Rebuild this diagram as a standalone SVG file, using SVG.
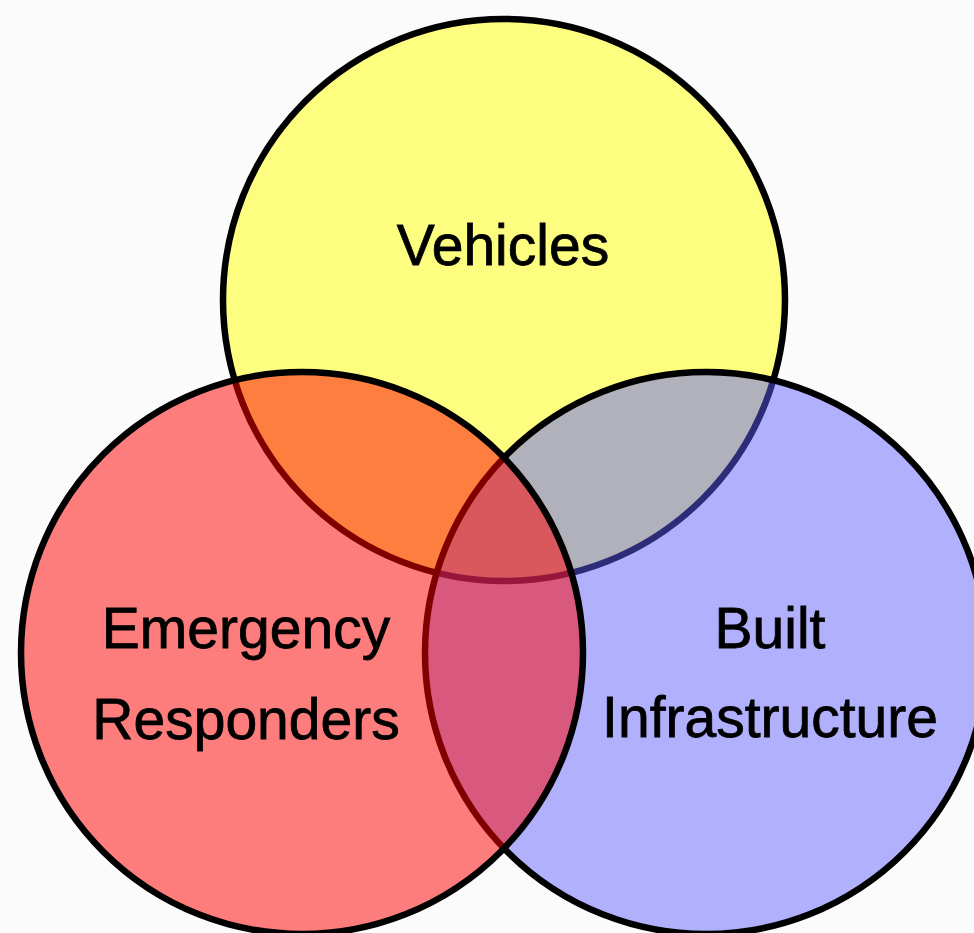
<svg xmlns="http://www.w3.org/2000/svg" width="974" height="933" viewBox="0 0 974 933">
  <style>
    .ring { stroke: #000000; stroke-width: 6.5; }
    .label { font-family: "Liberation Sans", Arial, sans-serif; font-size: 57px; fill: #000000; stroke: #000000; stroke-width: 0.8; text-anchor: middle; }
  </style>
  <rect x="0" y="0" width="974" height="933" fill="#fbfbfb"/>
  <g id="vehicles">
    <circle class="ring" cx="504" cy="300" r="281" fill="#fdfd80"/>
    <text class="label" x="503" y="265">Vehicles</text>
  </g>
  <g id="built-infrastructure">
    <circle class="ring" cx="706" cy="653" r="281" fill="#5c5cff" fill-opacity="0.476"/>
    <text class="label" x="770" y="648">Built</text>
    <text class="label" x="770" y="737">Infrastructure</text>
  </g>
  <g id="emergency-responders">
    <circle class="ring" cx="302" cy="653" r="281" fill="#ff0000" fill-opacity="0.5"/>
    <text class="label" x="246" y="648">Emergency</text>
    <text class="label" x="246" y="739">Responders</text>
  </g>
  <g id="connectors"/>
</svg>
